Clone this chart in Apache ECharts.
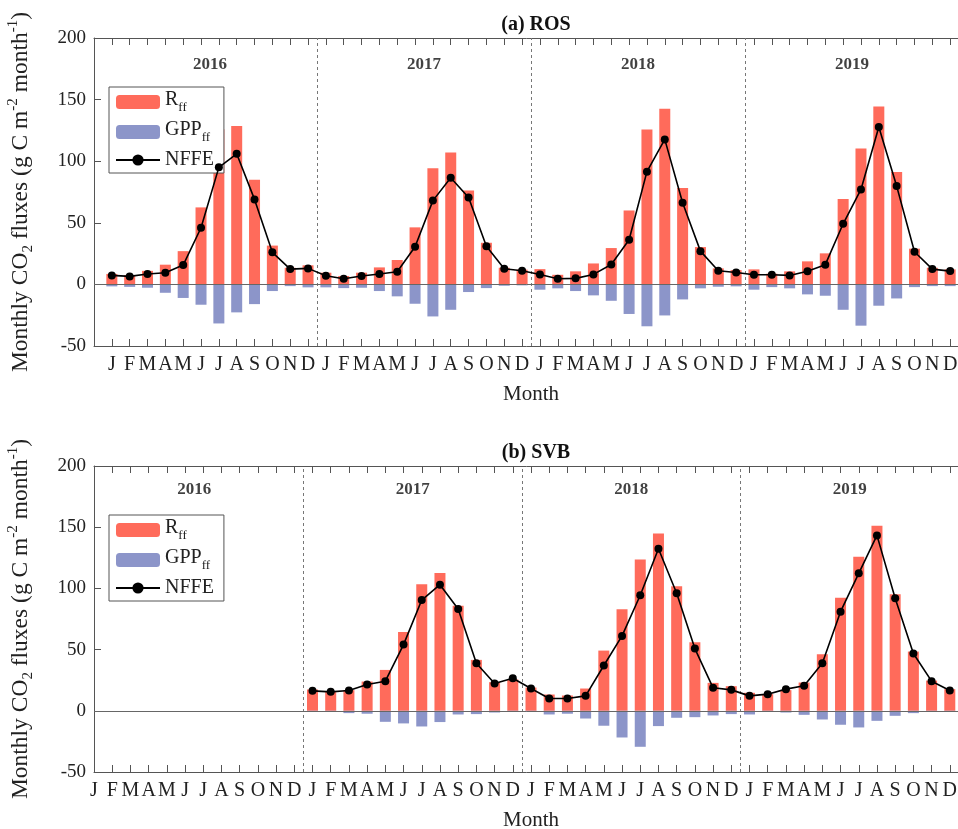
<!DOCTYPE html>
<html>
<head>
<meta charset="utf-8">
<script src="https://cdn.jsdelivr.net/npm/echarts@6/dist/echarts.min.js"></script>
<style>
  html, body { margin: 0; padding: 0; background: #fff; }
  #myChart { width: 958px; height: 829px; }
</style>
</head>
<body>
<div id="myChart"></div>
<script>
// month letters and year labels
var months = ['J', 'F', 'M', 'A', 'M', 'J', 'J', 'A', 'S', 'O', 'N', 'D']
var years = ['2016', '2017', '2018', '2019']
var yearBreaks = [12.5, 24.5, 36.5]

// (a) ROS, Jan 2016 - Dec 2019
var rosR = [8.5, 7.5, 11, 16, 27, 62.5, 126, 128.5, 85, 31.5, 13.5, 15.5,
    9.5, 6.8, 9.5, 13.8, 19.8, 46.3, 94.2, 107, 76.3, 33.8, 13.5, 12,
    12.4, 7.8, 10.6, 17, 29.5, 60, 125.8, 142.6, 78.2, 30.3, 13, 11.6,
    12.2, 8.7, 10.6, 18.7, 25.2, 69.3, 110.4, 144.5, 91.2, 29, 13.5, 12.2]
var rosGPP = [-1.6, -2, -2.7, -6.8, -11, -16.5, -31.7, -22.7, -16, -5.4, -1.4, -2.4,
    -2.4, -3, -2.7, -5.4, -9.7, -15.7, -26, -20.6, -6.2, -3, -1.1, -0.8,
    -4.3, -3.2, -5.4, -8.9, -13.3, -24, -34, -25.2, -12.2, -3.2, -1.9, -1.6,
    -4.3, -2.2, -3.2, -8.1, -9.2, -20.6, -33.5, -17.3, -11.4, -2.2, -1.4, -1.4]
var rosNFFE = [7.3, 6.5, 8.4, 9.5, 15.7, 46, 95, 106, 69, 26, 12.4, 13,
    7, 4.6, 6.8, 8.4, 10.3, 30.6, 68, 86.6, 70.6, 31, 12.7, 11.1,
    8.1, 4.6, 4.9, 8.1, 16.2, 36.3, 91.5, 117.7, 66.3, 27, 11.1, 9.7,
    7.8, 7.8, 7.3, 10.6, 16, 49.2, 77.1, 127.7, 79.8, 26.5, 12.4, 10.8]

// (b) SVB, no data in 2016
var svbR = [null, null, null, null, null, null, null, null, null, null, null, null,
    17.4, 15.8, 16.9, 23.9, 33.4, 64.4, 103.3, 112.6, 85.9, 41.6, 23.4, 25.6,
    19, 13.3, 12.5, 18.2, 49.2, 82.9, 123.7, 144.9, 101.7, 56, 22.8, 20.1,
    14.7, 13.6, 16.9, 23.1, 46.2, 92.4, 125.9, 151.2, 95.2, 48.4, 24.7, 17.7]
var svbGPP = [null, null, null, null, null, null, null, null, null, null, null, null,
    -0.3, -0.3, -1.9, -2.4, -9, -10.3, -12.8, -9.2, -3, -2.7, -1.4, -0.3,
    -1, -3, -2.4, -6.3, -12.2, -21.8, -29.4, -12.5, -5.7, -5.2, -3.8, -2.7,
    -3, -0.3, -1.4, -3.3, -7.1, -11.4, -13.6, -8.2, -4.1, -1.9, -0.8, -0.8]
var svbNFFE = [null, null, null, null, null, null, null, null, null, null, null, null,
    16.3, 15.5, 16.6, 21.5, 24.2, 54.1, 90.5, 103, 83.2, 38.9, 22.3, 26.6,
    18.2, 10.1, 10.1, 12.2, 37, 61.2, 94.4, 132.4, 96, 50.8, 18.8, 17.1,
    12.2, 13.6, 17.7, 20.4, 38.9, 81, 112.3, 143.3, 91.9, 46.8, 24.2, 16.6]

var font = 'Liberation Serif'
var redColor = '#ff6b5b'
var blueColor = '#8c95c9'

function pts(arr) {
    return arr.map(function (v, i) { return [i + 1, v] })
}

function monthLabel(v) {
    if (v < 1 || v > 48) return ''
    return months[(v - 1) % 12]
}

var panels = [
    { title: '(a) ROS', top: 38, height: 308, xmin: 0, r: rosR, g: rosGPP, n: rosNFFE, yearY: 178 },
    { title: '(b) SVB', top: 466, height: 306, xmin: 1, r: svbR, g: svbGPP, n: svbNFFE, yearY: 181 }
]

var option = {
    animation: false,
    backgroundColor: '#fff',
    title: [],
    legend: [],
    grid: [],
    xAxis: [],
    yAxis: [],
    series: []
}

panels.forEach(function (p, k) {
    option.title.push({
        text: p.title, left: 531, top: p.top - 28, textAlign: 'center',
        textStyle: { fontFamily: font, fontSize: 20, fontWeight: 'bold', color: '#111' }
    })
    option.grid.push({
        left: 94, top: p.top, width: 874, height: p.height,
        containLabel: false, outerBoundsMode: 'none'
    })
    var tickStyle = { show: true, inside: true, length: 7, lineStyle: { color: '#555' } }
    option.xAxis.push({
        type: 'value', gridIndex: k, position: 'bottom', min: p.xmin, max: 49, interval: 1,
        name: 'Month', nameLocation: 'middle', nameGap: 38,
        nameTextStyle: { fontFamily: font, fontSize: 21, color: '#222' },
        axisLine: { show: true, onZero: false, lineStyle: { color: '#555' } },
        axisTick: tickStyle,
        axisLabel: { formatter: monthLabel, fontFamily: font, fontSize: 20, color: '#222', margin: 9 },
        splitLine: { show: false }
    })
    option.xAxis.push({
        type: 'value', gridIndex: k, position: 'top', min: p.xmin, max: 49, interval: 1,
        axisLine: { show: true, onZero: false, lineStyle: { color: '#555' } },
        axisTick: tickStyle,
        axisLabel: { show: false },
        splitLine: { show: false }
    })
    option.yAxis.push({
        type: 'value', gridIndex: k, min: -50, max: 200, interval: 50,
        name: 'Monthly CO{sub|2} fluxes (g C m{sup|-2} month{sup|-1})',
        nameLocation: 'middle', nameGap: 58, nameRotate: 90,
        nameTextStyle: {
            fontFamily: font, fontSize: 23.5, color: '#222', lineHeight: 30,
            rich: {
                sub: { fontFamily: font, fontSize: 15, color: '#222', verticalAlign: 'bottom', lineHeight: 30 },
                sup: { fontFamily: font, fontSize: 15, color: '#222', verticalAlign: 'top', lineHeight: 30 }
            }
        },
        axisLine: { show: true, lineStyle: { color: '#555' } },
        axisTick: tickStyle,
        axisLabel: { fontFamily: font, fontSize: 19, color: '#222', margin: 8 },
        splitLine: { show: false }
    })
    option.legend.push({
        left: 109, top: p.top + 49, orient: 'vertical',
        data: ['Rff', 'GPPff', 'NFFE'],
        itemWidth: 44, itemHeight: 14, itemGap: 6,
        padding: [3, 10, 3, 6],
        borderColor: '#555', borderWidth: 1, backgroundColor: '#fff',
        formatter: function (name) {
            if (name === 'Rff') return '{m|R}{s|ff}'
            if (name === 'GPPff') return '{m|GPP}{s|ff}'
            return '{n|NFFE}'
        },
        textStyle: {
            fontFamily: font, fontSize: 20, color: '#222',
            rich: {
                m: { fontFamily: font, fontSize: 20, color: '#222', lineHeight: 24, verticalAlign: 'top' },
                s: { fontFamily: font, fontSize: 13, color: '#222', lineHeight: 24, verticalAlign: 'bottom' },
                n: { fontFamily: font, fontSize: 20, color: '#222', lineHeight: 18 }
            }
        }
    })
    option.series.push({
        name: 'Rff', type: 'bar', xAxisIndex: k * 2, yAxisIndex: k,
        data: pts(p.r), barWidth: 11, barGap: '-100%',
        itemStyle: { color: redColor },
        markLine: {
            silent: true, symbol: 'none', label: { show: false },
            lineStyle: { color: '#777', type: [3, 3], width: 1 },
            data: yearBreaks.map(function (b) { return { xAxis: b } })
                .concat([{ yAxis: 0, lineStyle: { color: '#666', type: 'solid', width: 1 } }])
        }
    })
    option.series.push({
        name: 'GPPff', type: 'bar', xAxisIndex: k * 2, yAxisIndex: k,
        data: pts(p.g), barWidth: 11, barGap: '-100%',
        itemStyle: { color: blueColor }
    })
    option.series.push({
        name: 'NFFE', type: 'line', xAxisIndex: k * 2, yAxisIndex: k,
        data: pts(p.n), symbol: 'circle', symbolSize: 8, z: 5,
        lineStyle: { color: '#000', width: 1.6 },
        itemStyle: { color: '#000' }
    })
    option.series.push({
        type: 'scatter', xAxisIndex: k * 2, yAxisIndex: k, silent: true,
        symbolSize: 0,
        data: years.map(function (y, i) { return [i * 12 + 6.5, p.yearY] }),
        label: {
            show: true, position: 'inside',
            formatter: function (d) { return years[d.dataIndex] },
            fontFamily: font, fontSize: 17, fontWeight: 'bold', color: '#111'
        }
    })
})

var myChart = echarts.init(document.getElementById('myChart'))
myChart.setOption(option)
</script>
</body>
</html>
